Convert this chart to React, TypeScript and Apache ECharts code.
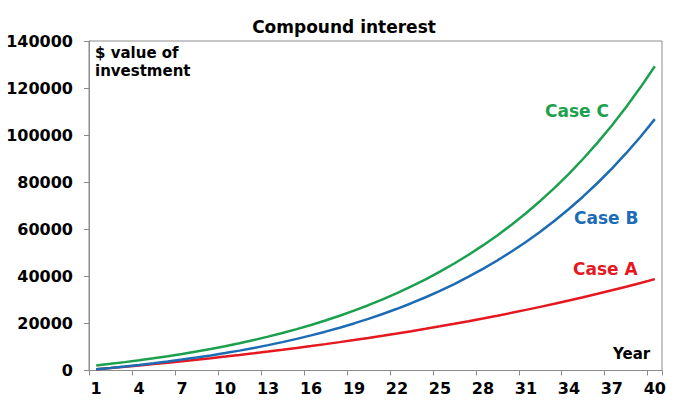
import React, { useEffect, useRef } from "react";
import * as echarts from "echarts";

const years = ["1","2","3","4","5","6","7","8","9","10","11","12","13","14","15","16","17","18","19","20","21","22","23","24","25","26","27","28","29","30","31","32","33","34","35","36","37","38","39","40"];

const caseA = [515, 1045, 1592, 2155, 2734, 3331, 3946, 4580, 5232, 5904, 6596, 7309, 8043, 8799, 9578, 10381, 11207, 12058, 12935, 13838, 14768, 15726, 16713, 17730, 18777, 19855, 20966, 22110, 23288, 24501, 25752, 27039, 28365, 29731, 31138, 32587, 34080, 35617, 37200, 38832];

const caseB = [535, 1107, 1720, 2375, 3077, 3827, 4630, 5489, 6408, 7392, 8444, 9570, 10775, 12064, 13444, 14920, 16500, 18189, 19998, 21933, 24003, 26218, 28589, 31125, 33838, 36742, 39849, 43174, 46731, 50537, 54609, 58967, 63629, 68618, 73956, 79669, 85781, 92321, 99318, 106805];

const caseC = [2140, 2824, 3558, 4341, 5181, 6078, 7039, 8066, 9166, 10343, 11601, 12948, 14390, 15932, 17583, 19348, 21238, 23259, 25423, 27738, 30214, 32864, 35700, 38734, 41979, 45453, 49170, 53147, 57402, 61955, 66827, 72040, 77617, 83585, 89971, 96805, 104116, 111940, 120310, 129267];

const seriesNames = ["Case A", "Case B", "Case C"];
const colors = ["#E5171F", "#1B6CB5", "#1BA04E"];

const FONT = "'DejaVu Sans', 'Liberation Sans', Arial, sans-serif";

export default function App() {
  const ref = useRef<HTMLDivElement>(null);
  useEffect(() => {
    if (!ref.current) return;
    const chart = echarts.init(ref.current, null, { renderer: "svg" });
    const data = [caseA, caseB, caseC];
    chart.setOption({
      animation: false,
      backgroundColor: "#ffffff",
      title: {
        text: "Compound interest",
        left: "center",
        top: 13,
        textStyle: { fontFamily: FONT, fontWeight: "bold", fontSize: 17, color: "#000" },
      },
      grid: {
        left: 89,
        right: 26,
        top: 41,
        bottom: 47.5,
        show: true,
        borderColor: "#8c8c8c",
        borderWidth: 1,
        backgroundColor: "transparent",
      },
      xAxis: {
        type: "category",
        data: years,
        boundaryGap: true,
        axisLine: { show: true, lineStyle: { color: "#8c8c8c", width: 1 } },
        axisTick: { show: true, interval: 2, length: 5, lineStyle: { color: "#8c8c8c" } },
        axisLabel: {
          interval: 2,
          margin: 10,
          fontFamily: FONT,
          fontWeight: "bold",
          fontSize: 16,
          color: "#000",
        },
        splitLine: { show: false },
      },
      yAxis: {
        type: "value",
        min: 0,
        max: 140000,
        interval: 20000,
        axisLine: { show: true, lineStyle: { color: "#8c8c8c", width: 1 } },
        axisTick: { show: true, length: 5, lineStyle: { color: "#8c8c8c" } },
        axisLabel: {
          margin: 16,
          fontFamily: FONT,
          fontWeight: "bold",
          fontSize: 16,
          color: "#000",
          formatter: (v: number) => String(v),
        },
        splitLine: { show: false },
      },
      series: data.map((d, i) => ({
        name: seriesNames[i],
        type: "line",
        data: d,
        showSymbol: false,
        symbol: "none",
        smooth: false,
        lineStyle: { color: colors[i], width: 2.5 },
        itemStyle: { color: colors[i] },
      })),
      graphic: [
        {
          type: "text",
          left: 95,
          top: 44,
          style: {
            text: "$ value of\ninvestment",
            font: `bold 15px ${FONT}`,
            fill: "#000",
            lineHeight: 18,
          },
        },
        {
          type: "text",
          left: 545,
          top: 102,
          style: { text: "Case C", font: `bold 17px ${FONT}`, fill: colors[2] },
        },
        {
          type: "text",
          left: 574,
          top: 209,
          style: { text: "Case B", font: `bold 17px ${FONT}`, fill: colors[1] },
        },
        {
          type: "text",
          left: 573,
          top: 260,
          style: { text: "Case A", font: `bold 17px ${FONT}`, fill: colors[0] },
        },
        {
          type: "text",
          left: 613,
          top: 346,
          style: { text: "Year", font: `bold 15px ${FONT}`, fill: "#000" },
        },
      ],
    });
    return () => chart.dispose();
  }, []);
  return (
    <div
      ref={ref}
      style={{ position: "fixed", left: 0, top: 0, width: 688, height: 418 }}
    />
  );
}
